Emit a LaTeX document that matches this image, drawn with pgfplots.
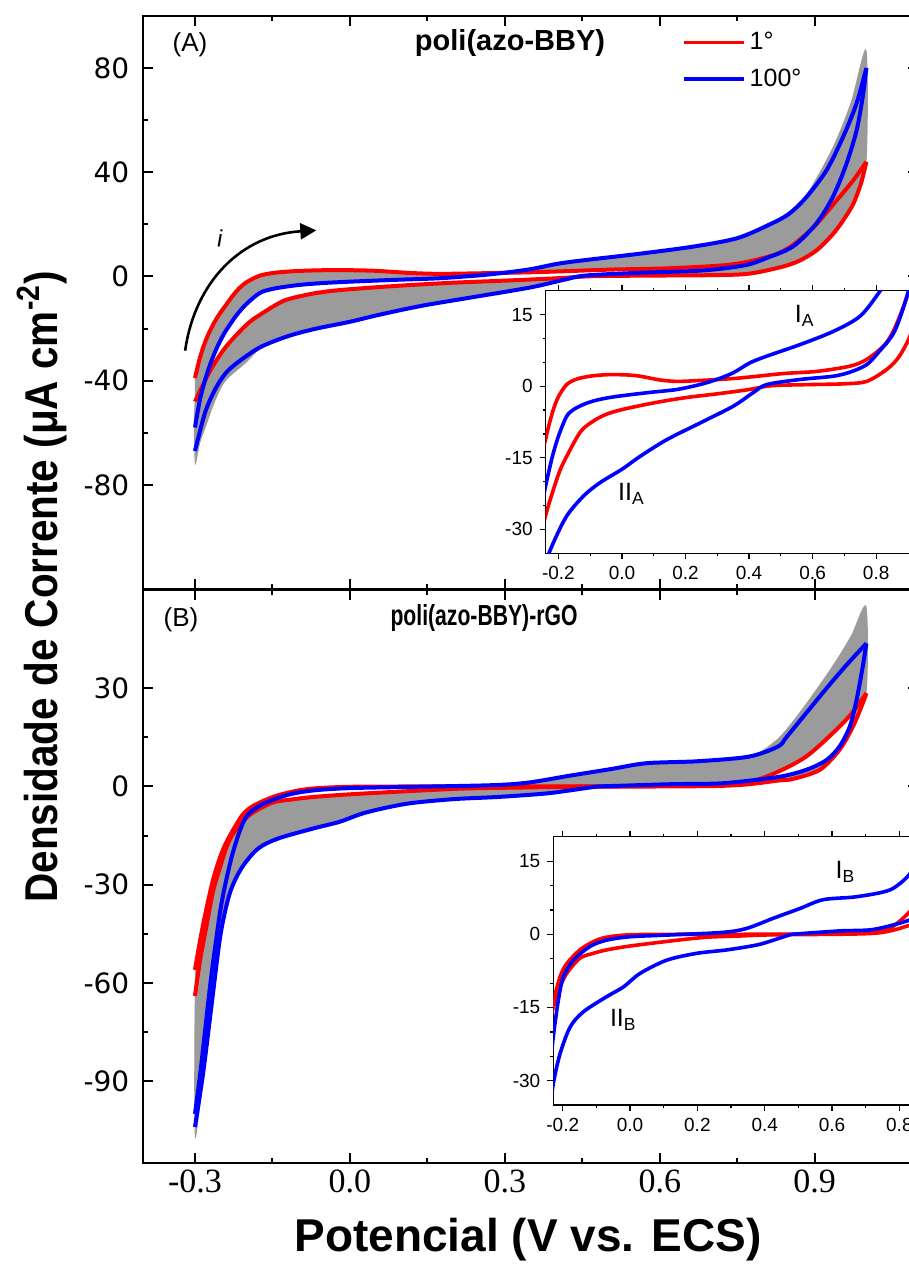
\documentclass[border=0pt]{standalone}
\usepackage{fontspec}
\setmainfont{Liberation Sans}
\newfontfamily\dejavu{DejaVu Sans}
\newfontfamily\lserif{Liberation Serif}
\usepackage{graphicx}
\usepackage{pgfplots}
\pgfplotsset{compat=1.18}
\usepackage{pgfplotstable}
\usetikzlibrary{arrows.meta}
\definecolor{cyc}{RGB}{155,155,155}
\definecolor{cred}{RGB}{255,0,0}
\definecolor{cblue}{RGB}{0,0,255}

% ---------- panel A ----------
\pgfplotstableread{
x y
-0.300 -39
-0.290 -31
-0.280 -25
-0.270 -20.5
-0.260 -16.8
-0.250 -13.7
-0.240 -11
-0.230 -8.2
-0.216 -4.9
-0.200 -2.2
-0.174 0.35
-0.142 1.5
-0.100 2.1
-0.050 2.4
0.000 2.4
0.046 2.2
0.088 1.7
0.120 1.3
0.172 1.0
0.246 1.2
0.350 1.6
0.414 2.0
0.508 2.65
0.613 3.1
0.718 4.2
0.770 5.6
0.823 8.4
0.850 11
0.875 14.8
0.904 20.2
0.948 30.5
0.975 37
1.000 44
}\rfA
\pgfplotstableread{
x y
1.000 44
0.990 36
0.975 28
0.955 21.5
0.935 16.2
0.904 10.1
0.870 6
0.833 3.5
0.770 1.0
0.700 0.5
0.600 0.35
0.500 0.2
0.456 0
0.400 -0.7
0.300 -1.6
0.200 -2.4
0.100 -3.5
0.000 -4.9
-0.050 -5.9
-0.090 -7.3
-0.130 -9.5
-0.174 -14.7
-0.200 -18.5
-0.240 -27
-0.270 -36
-0.300 -48
}\rrA
\pgfplotstableread{
x y
-0.300 -58
-0.290 -47
-0.280 -39.5
-0.270 -33.5
-0.260 -28.5
-0.250 -24.3
-0.240 -20.8
-0.220 -15
-0.200 -10.5
-0.174 -6.3
-0.150 -4.8
-0.120 -3.8
-0.090 -3.1
-0.050 -2.5
0.000 -2.0
0.088 -1.3
0.172 -0.7
0.246 0.35
0.298 1.4
0.350 2.8
0.403 4.9
0.456 6.3
0.560 8.7
0.666 11.5
0.750 14.7
0.812 19.9
0.850 24
0.884 30.5
0.923 40.8
0.955 53.6
0.981 66.4
1.000 80
}\bfA
\pgfplotstableread{
x y
1.000 80
0.993 69
0.981 56
0.961 43
0.935 30.5
0.903 20.3
0.858 11.5
0.806 7.0
0.770 4.5
0.720 3.0
0.666 2.1
0.560 1.4
0.456 0.35
0.414 -1.3
0.350 -4.2
0.246 -7.7
0.141 -11.2
0.057 -14.7
0.000 -17.4
-0.069 -20.2
-0.121 -23
-0.174 -27.2
-0.216 -32.8
-0.240 -37
-0.260 -43
-0.280 -52
-0.300 -67
}\brA
% gray band of cycles 2-99, anodic sweep (outline)
\pgfplotstableread{
x y
-0.300 -39
-0.290 -31
-0.280 -25
-0.270 -20.5
-0.260 -16.8
-0.250 -13.7
-0.240 -11
-0.230 -8.2
-0.216 -4.9
-0.200 -2.2
-0.174 0.35
-0.142 1.5
-0.100 2.1
-0.050 2.4
0.000 2.4
0.046 2.2
0.088 1.7
0.120 1.3
0.172 1.0
0.246 1.2
0.350 1.6
0.414 2.0
0.508 2.65
0.613 3.1
0.718 4.2
0.770 5.6
0.823 8.4
0.850 11
0.875 14.8
0.904 20.2
0.948 30.5
0.975 37
1.000 44
1.000 87
0.970 67
0.935 49.7
0.884 31.5
0.850 25
0.812 19.9
0.750 14.7
0.666 11.5
0.560 8.7
0.456 6.3
0.403 4.9
0.350 2.8
0.298 1.4
0.246 0.35
0.172 -0.7
0.088 -1.3
0.000 -2.0
-0.050 -2.5
-0.090 -3.1
-0.120 -3.8
-0.150 -4.8
-0.174 -6.3
-0.200 -10.5
-0.220 -15
-0.240 -20.8
-0.250 -24.3
-0.260 -28.5
-0.270 -33.5
-0.280 -39.5
-0.290 -47
-0.300 -58
}\gfA
% gray band, cathodic sweep (outline)
\pgfplotstableread{
x y
1.000 44
0.990 36
0.975 28
0.955 21.5
0.935 16.2
0.904 10.1
0.870 6
0.833 3.5
0.770 1.0
0.700 0.5
0.600 0.35
0.500 0.2
0.456 0
0.400 -0.7
0.300 -1.6
0.200 -2.4
0.100 -3.5
0.000 -4.9
-0.050 -5.9
-0.090 -7.3
-0.130 -9.5
-0.174 -14.7
-0.200 -18.5
-0.240 -27
-0.270 -36
-0.300 -48
-0.300 -72
-0.290 -64
-0.277 -56.7
-0.260 -47.5
-0.240 -40
-0.200 -33
-0.174 -28
-0.121 -23
-0.069 -20.2
0.000 -17.4
0.057 -14.7
0.141 -11.2
0.246 -7.7
0.350 -4.2
0.414 -1.3
0.456 0.35
0.560 1.4
0.666 2.1
0.720 3.0
0.770 4.5
0.806 7.0
0.858 11.5
0.903 20.3
0.935 30.5
0.961 43
0.981 56
0.993 69
1.000 80
}\grA

% ---------- panel B ----------
\pgfplotstableread{
x y
-0.300 -56
-0.290 -47
-0.280 -39
-0.265 -28.5
-0.250 -21
-0.239 -17
-0.228 -13.8
-0.208 -8.7
-0.188 -6.0
-0.149 -3.2
-0.109 -1.5
-0.070 -0.6
0.000 -0.1
0.130 0
0.330 0
0.525 0.07
0.723 0.55
0.772 1.2
0.829 4.5
0.884 9.2
0.935 16.3
0.970 22
1.000 28.5
}\rfB
\pgfplotstableread{
x y
1.000 28.5
0.993 25.4
0.974 18.3
0.948 11.2
0.910 5.1
0.858 2.3
0.829 1.8
0.723 0.2
0.426 -0.1
0.327 -0.34
0.227 -0.6
0.129 -1.3
0.000 -2.4
-0.070 -3.2
-0.109 -3.9
-0.149 -4.9
-0.188 -8.0
-0.208 -10.8
-0.228 -14.9
-0.240 -19
-0.252 -25
-0.265 -32
-0.277 -42
-0.290 -53
-0.300 -64
}\rrB
\pgfplotstableread{
x y
-0.300 -100
-0.290 -88
-0.280 -74
-0.270 -60
-0.260 -48
-0.250 -37
-0.240 -29
-0.228 -21
-0.213 -13.5
-0.198 -8.7
-0.168 -5.3
-0.119 -2.5
-0.070 -1.2
0.000 -0.5
0.129 -0.1
0.277 0.4
0.346 1.2
0.426 3.3
0.505 5.3
0.574 7.1
0.673 7.7
0.772 9.1
0.829 12.2
0.845 15
0.884 22.5
0.923 30
0.961 37
1.000 43.7
}\bfB
\pgfplotstableread{
x y
1.000 43.7
0.993 36.6
0.981 26.4
0.968 18.3
0.948 12.2
0.923 8.1
0.884 5.1
0.829 2.9
0.723 1.0
0.624 0.7
0.500 0.1
0.475 -0.1
0.426 -1.2
0.376 -2.2
0.287 -3.2
0.198 -3.9
0.109 -5.3
0.030 -8
-0.020 -10.8
-0.070 -12.8
-0.139 -15.9
-0.178 -19
-0.208 -24.5
-0.228 -30.6
-0.240 -37
-0.252 -46.8
-0.268 -67
-0.284 -87.4
-0.300 -104
}\brB
% gray band, anodic sweep (outline)
\pgfplotstableread{
x y
-0.300 -56
-0.290 -47
-0.280 -39
-0.265 -28.5
-0.250 -21
-0.239 -17
-0.228 -13.8
-0.208 -8.7
-0.188 -6.0
-0.149 -3.2
-0.109 -1.5
-0.070 -0.6
0.000 -0.1
0.130 0
0.330 0
0.525 0.07
0.723 0.55
0.772 1.2
0.829 4.5
0.884 9.2
0.935 16.3
0.970 22
1.000 28.5
1.000 55
0.970 46
0.935 37
0.884 25.5
0.845 17.5
0.820 13.5
0.772 9.1
0.673 7.7
0.574 7.1
0.505 5.3
0.426 3.3
0.346 1.2
0.277 0.4
0.129 -0.1
0.000 -0.5
-0.070 -1.2
-0.119 -2.5
-0.168 -5.3
-0.198 -8.7
-0.213 -13.5
-0.228 -21
-0.240 -29
-0.250 -37
-0.260 -48
-0.270 -60
-0.280 -74
-0.290 -88
-0.300 -100
}\gfB
% gray band, cathodic sweep (outline)
\pgfplotstableread{
x y
1.000 28.5
0.993 25.4
0.974 18.3
0.948 11.2
0.910 5.1
0.858 2.3
0.829 1.8
0.723 0.2
0.426 -0.1
0.327 -0.34
0.227 -0.6
0.129 -1.3
0.000 -2.4
-0.070 -3.2
-0.109 -3.9
-0.149 -4.9
-0.188 -8.0
-0.208 -10.8
-0.228 -14.9
-0.240 -19
-0.252 -25
-0.265 -32
-0.277 -42
-0.290 -53
-0.300 -64
-0.300 -107
-0.284 -89
-0.268 -67
-0.252 -46.8
-0.240 -37
-0.228 -30.6
-0.208 -24.5
-0.178 -19
-0.139 -15.9
-0.070 -12.8
-0.020 -10.8
0.030 -8
0.109 -5.3
0.198 -3.9
0.287 -3.2
0.376 -2.2
0.426 -1.2
0.475 -0.1
0.500 0.1
0.624 0.7
0.723 1.0
0.829 2.9
0.884 5.1
0.923 8.1
0.948 12.2
0.968 18.3
0.981 26.4
0.993 36.6
1.000 43.7
}\grB

\pgfplotsset{
  mainax/.style={
    scale only axis, width=387.35pt, height=286.5pt,
    xmin=-0.4, xmax=1.1,
    xtick={-0.3,0,0.3,0.6,0.9},
    minor x tick num=1, minor y tick num=1,
    tick align=inside, major tick length=5pt, minor tick length=2.5pt,
    every tick/.style={black, line width=1pt},
    axis line style={line width=1pt},
    yticklabel style={font=\dejavu\fontsize{14}{16}\selectfont, xshift=-3.5pt},
    xticklabel style={font=\lserif\fontsize{17}{19}\selectfont},
  },
  insetax/.style={
    scale only axis, axis background/.style={fill=white},
    ymin=-35, ymax=20,
    ytick={-30,-15,0,15}, yticklabels={-30,-15,0,15},
    xtick={-0.2,0,0.2,0.4,0.6,0.8},
    xticklabels={-0.2,0.0,0.2,0.4,0.6,0.8},
    minor x tick num=1, minor y tick num=2,
    tick align=outside, major tick length=3pt, minor tick length=1.5pt,
    every tick/.style={black, line width=0.6pt},
    axis line style={line width=0.7pt},
    ticklabel style={font=\fontsize{9.5}{11}\selectfont},
  },
  redc/.style={cred, line width=#1, line join=round, smooth, tension=0.5},
  bluec/.style={cblue, line width=#1, line join=round, smooth, tension=0.5},
  band/.style={fill=cyc, draw=none, smooth, tension=0.5},
}

\begin{document}
\begin{tikzpicture}

% ================= Panel A =================
\begin{axis}[mainax, at={(71.65pt,-8pt)}, anchor=north west,
  ymin=-120, ymax=100,
  ytick={-80,-40,0,40,80}, yticklabels={-80,-40,0,40,80},
  xticklabels={},
  legend style={at={(0.6945,0.979)}, anchor=north west, draw=none, fill=none,
    font=\fontsize{12.5}{14}\selectfont, row sep=4pt, inner sep=0pt,
    nodes={inner sep=2pt}},
  legend cell align=left,
  legend image code/.code={\draw[#1] (0pt,0pt) -- (30pt,0pt);},
]
\addplot[band, forget plot] table {\gfA};
\addplot[band, forget plot] table {\grA};
\addplot[redc=2pt, forget plot] table {\rfA};
\addplot[redc=2pt, forget plot] table {\rrA};
\addplot[bluec=2pt, forget plot] table {\bfA};
\addplot[bluec=2pt, forget plot] table {\brA};
\addlegendimage{cred, line width=1.35pt}
\addlegendentry{1°}
\addlegendimage{cblue, line width=2pt}
\addlegendentry{100°}
\draw[line width=1.3pt, -{Triangle[length=8pt,width=8pt]}]
  (axis cs:-0.319,-28.5) .. controls (axis cs:-0.30,-2) and (axis cs:-0.21,16) .. (axis cs:-0.065,17.7);
\node[rotate=-10, font=\fontsize{12}{14}\selectfont] at (axis cs:-0.251,14.6) {i};
\end{axis}

% ================= Panel B =================
\begin{axis}[mainax, at={(71.65pt,-295pt)}, anchor=north west,
  ymin=-115, ymax=60,
  ytick={-90,-60,-30,0,30}, yticklabels={-90,-60,-30,0,30},
  xticklabels={-0.3,0.0,0.3,0.6,0.9},
]
\addplot[band] table {\gfB};
\addplot[band] table {\grB};
\addplot[redc=2pt] table {\rfB};
\addplot[redc=2pt] table {\rrB};
\addplot[bluec=2pt] table {\bfB};
\addplot[bluec=2pt] table {\brB};
\end{axis}

% ================= Inset A =================
\begin{axis}[insetax, at={(272.85pt,-145.35pt)}, anchor=north west,
  width=197pt, height=131.3pt, xmin=-0.24, xmax=1.0]
\addplot[redc=1.8pt] table {\rfA};
\addplot[redc=1.8pt] table {\rrA};
\addplot[bluec=1.8pt] table {\bfA};
\addplot[bluec=1.8pt] table {\brA};
\node[font=\fontsize{12.5}{14}\selectfont] at (axis cs:0.575,14.8) {I\textsubscript{A}};
\node[font=\fontsize{12.5}{14}\selectfont] at (axis cs:0.03,-22.5) {II\textsubscript{A}};
\end{axis}

% ================= Inset B =================
\begin{axis}[insetax, at={(276.65pt,-418.35pt)}, anchor=north west,
  width=206.7pt, height=134.2pt, xmin=-0.228, xmax=1.0]
\addplot[redc=1.8pt] table {\rfB};
\addplot[redc=1.8pt] table {\rrB};
\addplot[bluec=1.8pt] table {\bfB};
\addplot[bluec=1.8pt] table {\brB};
\node[font=\fontsize{12.5}{14}\selectfont] at (axis cs:0.64,12.8) {I\textsubscript{B}};
\node[font=\fontsize{12.5}{14}\selectfont] at (axis cs:-0.02,-17.5) {II\textsubscript{B}};
\end{axis}

% ================= texts =================
\node[font=\fontsize{13}{15}\selectfont] at (95pt,-22.5pt) {(A)};
\node[font=\bfseries\fontsize{14.5}{16}\selectfont] at (255pt,-21.5pt) {poli(azo-BBY)};
\node[font=\fontsize{13}{15}\selectfont] at (90.5pt,-310pt) {(B)};
\node[font=\bfseries\fontsize{14.5}{16}\selectfont] at (242pt,-309pt) {\scalebox{0.73}[1]{poli(azo-BBY)-rGO}};
\node[font=\bfseries\fontsize{23}{26}\selectfont] at (264pt,-620pt) {Potencial (V vs. ECS)};
\node[rotate=90, font=\bfseries\fontsize{23}{26}\selectfont] at (21pt,-293.5pt) {\scalebox{0.88}[1]{Densidade de Corrente (μA cm\textsuperscript{-2})}};

\pgfresetboundingbox
\path[use as bounding box] (0,0) rectangle (454.5pt,-637pt);
\end{tikzpicture}
\end{document}
